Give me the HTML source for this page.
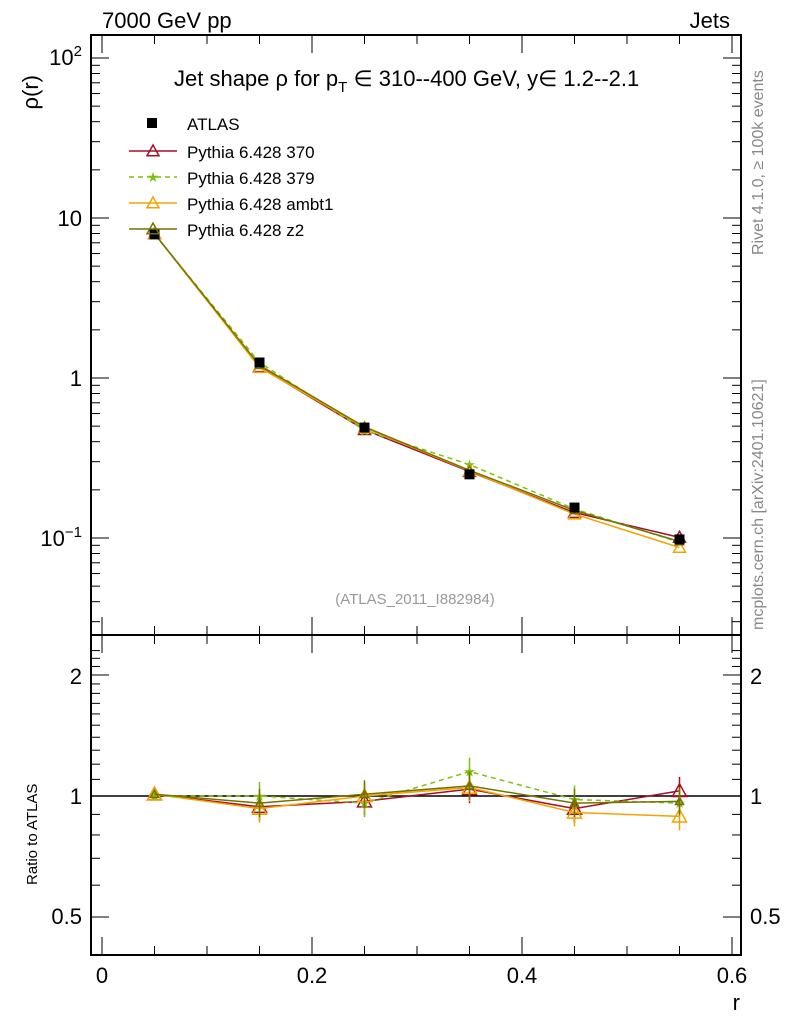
<!DOCTYPE html>
<html><head><meta charset="utf-8"><style>
body{margin:0;background:#fff}
svg text{font-family:"Liberation Sans",sans-serif}
</style></head><body>
<svg id="s" width="786" height="1024" xmlns="http://www.w3.org/2000/svg"></svg>
<script>
const S=document.getElementById('s');let h='';
const X=v=>102+1050*v;
const YM=v=>378-160*Math.log10(v);
const YR=v=>796-402*Math.log10(v);
const L=91,R=741,T=35,M=635,B=955;
h+=`<rect x="${L}" y="${T}" width="${R-L}" height="${M-T}" fill="none" stroke="#000" stroke-width="2"/>`;
h+=`<rect x="${L}" y="${M}" width="${R-L}" height="${B-M}" fill="none" stroke="#000" stroke-width="2"/>`;
for(let i=0;i<=12;i++){const v=i*0.05,x=X(v),big=i%4==0,len=big?18:9;
 for(const [a,b] of [[T,M],[M,B]]){h+=`<line x1="${x}" y1="${a}" x2="${x}" y2="${a+len}" stroke="#000"/><line x1="${x}" y1="${b}" x2="${x}" y2="${b-len}" stroke="#000"/>`;}}
[0,0.2,0.4,0.6].forEach(v=>h+=`<text x="${X(v)}" y="983" font-size="22" text-anchor="middle">${v==0?'0':v}</text>`);
h+=`<text x="740" y="1010" font-size="22" text-anchor="end">r</text>`;
for(let d=-2;d<=2;d++)for(let k=1;k<10;k++){const v=k*Math.pow(10,d),y=YM(v);if(y<T||y>M)continue;const len=k==1?18:9;
 h+=`<line x1="${L}" y1="${y}" x2="${L+len}" y2="${y}" stroke="#000"/><line x1="${R}" y1="${y}" x2="${R-len}" y2="${y}" stroke="#000"/>`;}
h+=`<text x="82" y="65" font-size="22" text-anchor="end">10<tspan dy="-9" font-size="15">2</tspan></text>`;
h+=`<text x="82" y="226" font-size="22" text-anchor="end">10</text>`;
h+=`<text x="82" y="386" font-size="22" text-anchor="end">1</text>`;
h+=`<text x="82" y="546" font-size="22" text-anchor="end">10<tspan dy="-9" font-size="15">−1</tspan></text>`;
h+=`<text transform="translate(38,75) rotate(-90)" font-size="22" text-anchor="end">ρ(r)</text>`;
[0.5,0.6,0.7,0.8,0.9,1,1.1,1.2,1.3,1.4,1.5,1.6,1.7,1.8,1.9,2,2.1,2.2,2.3].forEach(v=>{const y=YR(v);if(y<M||y>B)return;const len=(v==0.5||v==1||v==2)?18:9;
 h+=`<line x1="${L}" y1="${y}" x2="${L+len}" y2="${y}" stroke="#000"/><line x1="${R}" y1="${y}" x2="${R-len}" y2="${y}" stroke="#000"/>`;});
h+=`<text x="82" y="684" font-size="22" text-anchor="end">2</text><text x="82" y="804" font-size="22" text-anchor="end">1</text><text x="82" y="924" font-size="22" text-anchor="end">0.5</text>`;
h+=`<text x="750" y="684" font-size="22">2</text><text x="750" y="804" font-size="22">1</text><text x="750" y="924" font-size="22">0.5</text>`;
h+=`<text transform="translate(37,885) rotate(-90)" font-size="15">Ratio to ATLAS</text>`;
h+=`<line x1="${L}" y1="796" x2="${R}" y2="796" stroke="#000" stroke-width="1.5"/>`;
h+=`<text x="102" y="28" font-size="22">7000 GeV pp</text><text x="730" y="28" font-size="22" text-anchor="end">Jets</text>`;
h+=`<text x="174" y="86" font-size="22">Jet shape ρ for p<tspan dy="6" font-size="15">T</tspan><tspan dy="-6"> ∈ 310--400 GeV, y∈ 1.2--2.1</tspan></text>`;
h+=`<text x="415" y="604" font-size="15" fill="#999" text-anchor="middle">(ATLAS_2011_I882984)</text>`;
h+=`<text transform="translate(763,255) rotate(-90)" font-size="16" fill="#888">Rivet 4.1.0, ≥ 100k events</text>`;
h+=`<text transform="translate(763,630) rotate(-90)" font-size="16" fill="#888">mcplots.cern.ch [arXiv:2401.10621]</text>`;
const xs=[0.05,0.15,0.25,0.35,0.45,0.55];
const at=[7.9,1.25,0.49,0.25,0.155,0.098];
const ser=[
 {c:'#a50f24',d:'',m:'tri',r:[1.01,0.94,0.97,1.04,0.93,1.03]},
 {c:'#7fbf10',d:'5,4',m:'star',r:[1.0,1.0,0.96,1.15,0.98,0.96]},
 {c:'#f5a300',d:'',m:'tri',r:[1.01,0.93,1.0,1.05,0.91,0.89]},
 {c:'#737300',d:'',m:'tri',r:[1.01,0.96,1.01,1.06,0.96,0.97]}];
function mk(m,x,y,c,s){if(m=='tri')return `<polygon points="${x},${y-s} ${x-s},${y+s*0.8} ${x+s},${y+s*0.8}" fill="none" stroke="${c}" stroke-width="1.5"/>`;
 return `<text x="${x}" y="${y+5}" font-size="14" fill="${c}" text-anchor="middle">★</text>`;}
ser.forEach(s=>{
 const pm=xs.map((x,i)=>X(x)+','+YM(at[i]*s.r[i])).join(' ');
 h+=`<polyline points="${pm}" fill="none" stroke="${s.c}" stroke-width="1.5" stroke-dasharray="${s.d}"/>`;
 const pr=xs.map((x,i)=>X(x)+','+YR(s.r[i])).join(' ');
 h+=`<polyline points="${pr}" fill="none" stroke="${s.c}" stroke-width="1.5" stroke-dasharray="${s.d}"/>`;
 xs.forEach((x,i)=>{const y=YR(s.r[i]);if(i>0)h+=`<line x1="${X(x)}" y1="${y-14}" x2="${X(x)}" y2="${y+14}" stroke="${s.c}" stroke-width="1.5"/>`;
  h+=mk(s.m,X(x),y,s.c,s.m=='tri'?(s.c=='#737300'?4:7):0);
  h+=mk(s.m,X(x),YM(at[i]*s.r[i]),s.c,s.m=='tri'?(s.c=='#737300'?4:6):0);});
});
xs.forEach((x,i)=>h+=`<rect x="${X(x)-5}" y="${YM(at[i])-5}" width="10" height="10" fill="#000"/>`);
const ly=[123,152,178,204,230];
h+=`<rect x="147" y="118" width="10" height="10" fill="#000"/><text x="187" y="130" font-size="17">ATLAS</text>`;
const names=['Pythia 6.428 370','Pythia 6.428 379','Pythia 6.428 ambt1','Pythia 6.428 z2'];
ser.forEach((s,i)=>{const y=ly[i+1]-1;
 h+=`<line x1="129" y1="${y}" x2="177" y2="${y}" stroke="${s.c}" stroke-width="1.5" stroke-dasharray="${s.d}"/>`;
 h+=mk(s.m,153,y,s.c,s.m=='tri'?6:0);
 h+=`<text x="187" y="${y+7}" font-size="17">${names[i]}</text>`;});
S.innerHTML=h;
</script>
</body></html>
